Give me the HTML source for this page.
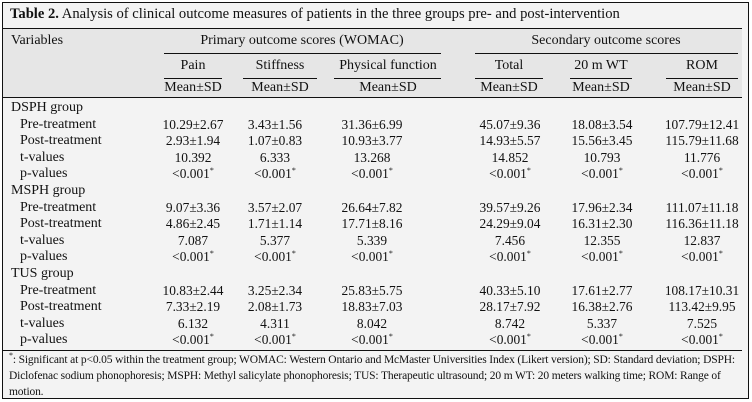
<!DOCTYPE html>
<html><head><meta charset="utf-8"><style>
body{margin:0;width:752px;height:402px;background:#fff;position:relative;overflow:hidden;font-family:"Liberation Serif",serif;color:#111}
#box{position:absolute;left:2px;top:2px;width:745px;height:395px;border:1px solid #111;background:#f3f3f3}
.t{position:absolute;font-size:14px;line-height:16px;white-space:nowrap}
.n{font-size:13.4px}
.c{transform:translateX(-50%)}
.h{position:absolute;height:1px;background:#111}
#hdr{position:absolute;left:3px;top:28px;width:739px;height:69px;background:#e6e6e6}
.fn{position:absolute;left:9px;font-size:11.5px;line-height:16px;white-space:nowrap;letter-spacing:-0.15px}
.s{font-size:8px;position:relative;top:-5px;line-height:0}
</style></head><body>
<div id="box"></div>
<div id="hdr"></div>
<div class="t" style="left:10px;top:6px;font-size:14.6px"><b>Table 2.</b> Analysis of clinical outcome measures of patients in the three groups pre- and post-intervention</div>
<div class="h" style="left:3px;top:28px;width:739px"></div>
<div class="t" style="left:11px;top:33px">Variables</div>
<div class="t c" style="left:302px;top:33px">Primary outcome scores (WOMAC)</div>
<div class="t c" style="left:606px;top:33px">Secondary outcome scores</div>
<div class="h" style="left:164px;top:53px;width:277px"></div>
<div class="h" style="left:475px;top:53px;width:263px"></div>
<div class="t c" style="left:193px;top:58px">Pain</div>
<div class="t c" style="left:280px;top:58px">Stiffness</div>
<div class="t c" style="left:388px;top:58px">Physical function</div>
<div class="t c" style="left:509px;top:58px">Total</div>
<div class="t c" style="left:601px;top:58px">20 m WT</div>
<div class="t c" style="left:702px;top:58px">ROM</div>
<div class="h" style="left:164px;top:78px;width:58px"></div>
<div class="h" style="left:243px;top:78px;width:74px"></div>
<div class="h" style="left:334px;top:78px;width:107px"></div>
<div class="h" style="left:475px;top:78px;width:68px"></div>
<div class="h" style="left:570px;top:78px;width:62px"></div>
<div class="h" style="left:666px;top:78px;width:72px"></div>
<div class="t c" style="left:193px;top:80px">Mean±SD</div>
<div class="t c" style="left:280px;top:80px">Mean±SD</div>
<div class="t c" style="left:388px;top:80px">Mean±SD</div>
<div class="t c" style="left:509px;top:80px">Mean±SD</div>
<div class="t c" style="left:601px;top:80px">Mean±SD</div>
<div class="t c" style="left:702px;top:80px">Mean±SD</div>
<div class="h" style="left:3px;top:97px;width:739px"></div>

<div id="rows"></div>
<div class="h" style="left:3px;top:350px;width:739px"></div>
<div class="fn" style="top:352px"><span class="s">*</span>: Significant at p&lt;0.05 within the treatment group; WOMAC: Western Ontario and McMaster Universities Index (Likert version); SD: Standard deviation; DSPH:</div>
<div class="fn" style="top:368px">Diclofenac sodium phonophoresis; MSPH: Methyl salicylate phonophoresis; TUS: Therapeutic ultrasound; 20 m WT: 20 meters walking time; ROM: Range of</div>
<div class="fn" style="top:384px">motion.</div>
<script>
var data=[
["DSPH group"],
["Pre-treatment","10.29±2.67","3.43±1.56","31.36±6.99","45.07±9.36","18.08±3.54","107.79±12.41"],
["Post-treatment","2.93±1.94","1.07±0.83","10.93±3.77","14.93±5.57","15.56±3.45","115.79±11.68"],
["t-values","10.392","6.333","13.268","14.852","10.793","11.776"],
["p-values","p","p","p","p","p","p"],
["MSPH group"],
["Pre-treatment","9.07±3.36","3.57±2.07","26.64±7.82","39.57±9.26","17.96±2.34","111.07±11.18"],
["Post-treatment","4.86±2.45","1.71±1.14","17.71±8.16","24.29±9.04","16.31±2.30","116.36±11.18"],
["t-values","7.087","5.377","5.339","7.456","12.355","12.837"],
["p-values","p","p","p","p","p","p"],
["TUS group"],
["Pre-treatment","10.83±2.44","3.25±2.34","25.83±5.75","40.33±5.10","17.61±2.77","108.17±10.31"],
["Post-treatment","7.33±2.19","2.08±1.73","18.83±7.03","28.17±7.92","16.38±2.76","113.42±9.95"],
["t-values","6.132","4.311","8.042","8.742","5.337","7.525"],
["p-values","p","p","p","p","p","p"]];
var xs=[193,275,372,510,602,702],h="";
data.forEach(function(r,i){var y=100+i*16.6;
h+='<div class="t" style="left:'+(r.length==1?11:20)+'px;top:'+y+'px">'+r[0]+'</div>';
for(var j=1;j<r.length;j++){var v=r[j]=="p"?'&lt;0.001<span class="s">*</span>':r[j];
h+='<div class="t c n" style="left:'+xs[j-1]+'px;top:'+y+'px">'+v+'</div>';}});
document.getElementById("rows").innerHTML=h;
</script>
</body></html>
